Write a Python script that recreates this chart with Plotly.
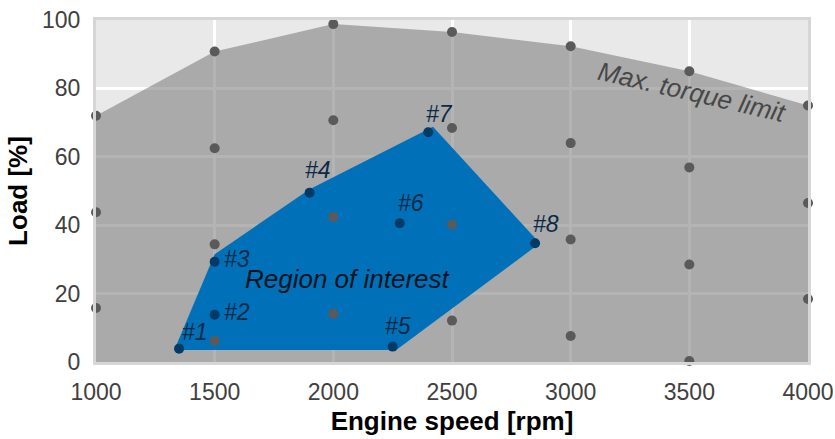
import plotly.graph_objects as go

# --- data ---
torque_rpm = [1000, 1500, 2000, 2500, 3000, 3500, 4000]
torque_load = [72, 90.8, 98.8, 96.5, 92.3, 85.0, 75.0]

grid_rpm = [1000, 1000, 1500, 1500, 1500, 2000, 2000, 2000, 2500, 2500, 2500,
            3000, 3000, 3000, 3500, 3500, 3500, 4000, 4000]
grid_load = [43.8, 15.8, 62.5, 34.4, 6.2, 70.7, 42.4, 14.1, 68.4, 40.2, 12.1,
             64.0, 35.8, 7.6, 56.9, 28.5, 0.3, 46.5, 18.4]

roi_rpm = [1330, 1500, 1900, 2420, 2870, 2265, 1330]
roi_load = [3.5, 31.5, 50.5, 68.8, 34.7, 3.5, 3.5]

op_names = ["#1", "#2", "#3", "#4", "#5", "#6", "#7", "#8"]
op_rpm = [1350, 1500, 1500, 1900, 2250, 2280, 2400, 2850]
op_load = [3.9, 13.8, 29.3, 49.5, 4.5, 40.6, 67.2, 34.7]

x_ticks = [1000, 1500, 2000, 2500, 3000, 3500, 4000]
y_ticks = [0, 20, 40, 60, 80, 100]

# --- styles ---
label_dx = [16, 22, 22, 8, 5, 11, 11, 11]
label_dy = [17, 3, 3, 23, 21, 20, 18, 19]
FONT = "Liberation Sans, Arial, Helvetica, sans-serif"

fig = go.Figure()

# Max torque region (semi-transparent so grid shows through)
fig.add_trace(go.Scatter(
    x=torque_rpm, y=torque_load, mode="lines", fill="tozeroy",
    line=dict(width=0, color="rgba(0,0,0,0)"),
    fillcolor="rgba(118,118,118,0.55)", hoverinfo="skip", showlegend=False))

# Region of interest polygon
fig.add_trace(go.Scatter(
    x=roi_rpm, y=roi_load, mode="lines", fill="toself",
    line=dict(width=0, color="#0071b9"), fillcolor="#0071b9",
    hoverinfo="skip", showlegend=False))

# Grid measurement points
fig.add_trace(go.Scatter(
    x=torque_rpm + grid_rpm, y=torque_load + grid_load, mode="markers",
    marker=dict(size=10, color="#5a5a5a"), showlegend=False,
    cliponaxis=False))

# Operating points
fig.add_trace(go.Scatter(
    x=op_rpm, y=op_load, mode="markers",
    marker=dict(size=10, color="#003a66"), showlegend=False,
    cliponaxis=False))

for name, xv, yv, dx, dy in zip(op_names, op_rpm, op_load, label_dx, label_dy):
    fig.add_annotation(x=xv, y=yv, text=name, showarrow=False,
                       xshift=dx, yshift=dy,
                       font=dict(family=FONT, size=23, color="#0b2a45", style="italic"))

fig.add_annotation(x=2062, y=24.2, text="Region of interest", showarrow=False,
                   font=dict(family=FONT, size=26, color="#0a1420", style="italic"))
fig.add_annotation(x=3512, y=79.0, text="Max. torque limit", showarrow=False,
                   textangle=13,
                   font=dict(family=FONT, size=26, color="#474747", style="italic"))

axis_common = dict(
    showgrid=True, gridcolor="#ffffff", gridwidth=3, automargin=False,
    zeroline=False, showline=True, mirror=True, linecolor="#d6d6d6", linewidth=3,
    ticks="", tickfont=dict(family=FONT, size=23, color="#404040"),
)

fig.update_xaxes(range=[1000, 4000], tickvals=x_ticks, ticklabelstandoff=7,
                 title=dict(text="<b>Engine speed [rpm]</b>", standoff=9,
                            font=dict(family=FONT, size=26, color="#000000")),
                 **axis_common)
fig.update_yaxes(range=[0, 100], tickvals=y_ticks, ticklabelstandoff=8,
                 title=dict(text="<b>Load [%]</b>", standoff=7,
                            font=dict(family=FONT, size=26, color="#000000")),
                 **axis_common)

fig.update_layout(
    width=835, height=439,
    margin=dict(l=96, r=27, t=20, b=77, autoexpand=False),
    plot_bgcolor="#e9e9e9", paper_bgcolor="#ffffff",
    font=dict(family=FONT),
)

fig.write_html("out.html")
